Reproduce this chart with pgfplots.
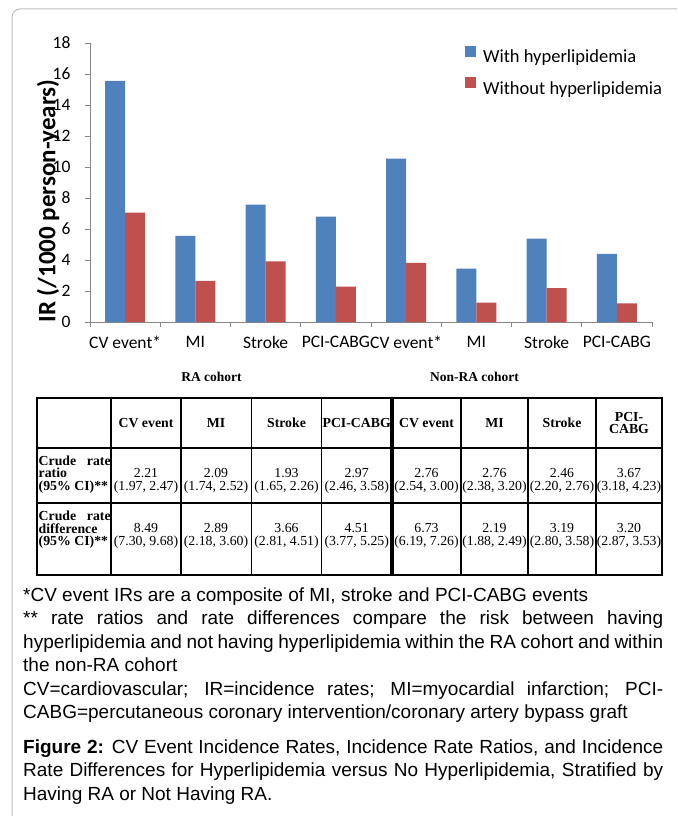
\documentclass[border=0pt]{standalone}
\usepackage{pgfplots}
\pgfplotsset{compat=1.18}
\usepackage{fontspec}
\setmainfont{Liberation Sans}
\newfontfamily\carlito{Carlito}
\newfontfamily\tnr{Liberation Serif}
\definecolor{xblue}{HTML}{4F81BD}
\definecolor{xred}{HTML}{C0504D}
\definecolor{axgray}{HTML}{868686}
\definecolor{framegray}{HTML}{BDBDBD}
\newcommand{\tabfont}{\tnr\fontsize{13.8}{12.8}\selectfont}
\newcommand{\tabbold}{\tnr\bfseries\fontsize{13.8}{12.6}\selectfont}
\newcommand{\notefont}{\fontsize{19}{23.4}\selectfont\spaceskip=0.278em plus 0.4em minus 0.12em\relax}
\begin{document}
\begin{tikzpicture}
\path[use as bounding box] (0pt,0pt) rectangle (677pt,-816pt);
\begin{scope}
\clip (0pt,0pt) rectangle (677pt,-816pt);
\draw[framegray, line width=1pt, rounded corners=8pt] (12pt,-9pt) rectangle (720pt,-824pt);
\end{scope}
\begin{axis}[
  at={(90pt,-322pt)}, anchor=south west,
  scale only axis, width=562pt, height=279pt,
  xmin=-0.5, xmax=7.5, ymin=0, ymax=18,
  ybar=0pt, bar width=20pt,
  axis x line*=bottom, axis y line*=left,
  axis line style={axgray, line width=0.8pt},
  ytick={0,2,...,18},
  xtick={-0.5,0.5,...,7.5}, xticklabels={},
  tick align=outside, major tick length=5pt,
  tick style={axgray, line width=0.8pt},
  extra x ticks={0,1,2,3,4,5,6,7},
  extra x tick labels={CV event*,MI,Stroke,PCI-CABG,CV event*,MI,Stroke,PCI-CABG},
  extra x tick style={major tick length=0pt, tick style={draw=none}},
  /pgf/number format/assume math mode=true,
  ticklabel style={font=\carlito\fontsize{17.5}{20}\selectfont, text=black},
  yticklabel style={xshift=-11pt},
  xticklabel style={yshift=-11pt},
  legend image code/.code={\fill[#1] (0pt,0pt) rectangle (11pt,11pt);},
  legend style={at={(axis description cs:0.667,0.989)}, anchor=north west,
    draw=none, fill=none, inner sep=0pt, row sep=11pt,
    font=\carlito\fontsize{18.5}{21}\selectfont,
    /tikz/every odd column/.append style={column sep=5pt}},
  legend cell align=left,
]
\addplot[fill=xblue, draw=none] coordinates {(0,15.56) (1,5.55) (2,7.57) (3,6.80) (4,10.54) (5,3.44) (6,5.38) (7,4.40)};
\addplot[fill=xred, draw=none] coordinates {(0,7.06) (1,2.66) (2,3.91) (3,2.29) (4,3.81) (5,1.25) (6,2.19) (7,1.20)};
\legend{With hyperlipidemia, Without hyperlipidemia}
\end{axis}
\node[rotate=90, font=\carlito\bfseries\fontsize{25}{28}\selectfont] at (48pt,-201pt) {IR (/1000 person-years)};
\node[font=\tnr\bfseries\fontsize{13.5}{15}\selectfont] at (211.5pt,-377pt) {RA cohort};
\node[font=\tnr\bfseries\fontsize{13.5}{15}\selectfont] at (474.5pt,-377pt) {Non-RA cohort};
% table
\draw[line width=2pt] (37pt,-398pt) rectangle (662pt,-575pt);
\draw[line width=1.3pt] (37pt,-448pt) -- (662pt,-448pt) (37pt,-503pt) -- (662pt,-503pt);
\foreach \xx in {111,181,251.5,321.5,461,528,596} {\draw[line width=1.3pt] (\xx pt,-398pt) -- (\xx pt,-575pt);}
\draw[line width=3.5pt] (392pt,-398pt) -- (392pt,-575pt);
\foreach \xx/\lab in {146/CV event,216/MI,286.5/Stroke,356.7/PCI-CABG,426.5/CV event,494.5/MI,562/Stroke} {\node[font=\tabbold] at (\xx pt,-423pt) {\lab};}
\node[font=\tabbold, align=center] at (629pt,-423pt) {PCI-\\CABG};
\foreach \xx/\a/\b in {146/2.21/{(1.97, 2.47)},216/2.09/{(1.74, 2.52)},286.5/1.93/{(1.65, 2.26)},356.7/2.97/{(2.46, 3.58)},426.5/2.76/{(2.54, 3.00)},494.5/2.76/{(2.38, 3.20)},562/2.46/{(2.20, 2.76)},629/3.67/{(3.18, 4.23)}} {\node[font=\tabfont, align=center, inner sep=0pt] at (\xx pt,-481pt) {\a\\\b};}
\foreach \xx/\a/\b in {146/8.49/{(7.30, 9.68)},216/2.89/{(2.18, 3.60)},286.5/3.66/{(2.81, 4.51)},356.7/4.51/{(3.77, 5.25)},426.5/6.73/{(6.19, 7.26)},494.5/2.19/{(1.88, 2.49)},562/3.19/{(2.80, 3.58)},629/3.20/{(2.87, 3.53)}} {\node[font=\tabfont, align=center, inner sep=0pt] at (\xx pt,-536pt) {\a\\\b};}
\node[anchor=base west, text width=72pt, align=justify, inner sep=0pt, font=\tabbold] at (38.5pt,-465pt) {Crude rate\linebreak ratio\newline (95\% CI)**};
\node[anchor=base west, text width=72pt, align=justify, inner sep=0pt, font=\tabbold] at (38.5pt,-520.5pt) {Crude rate\linebreak difference\newline (95\% CI)**};
% notes
\node[anchor=base west, text width=640pt, align=justify, inner sep=0pt, font=\notefont] at (23pt,-601.5pt) {*CV event IRs are a composite of MI, stroke and PCI-CABG events\par ** rate ratios and rate differences compare the risk between having\linebreak hyperlipidemia and not having hyperlipidemia within the RA cohort and within\linebreak the non-RA cohort\par CV=cardiovascular; IR=incidence rates; MI=myocardial infarction; PCI-\linebreak CABG=percutaneous coronary intervention/coronary artery bypass graft};
\node[anchor=base west, text width=640pt, align=justify, inner sep=0pt, font=\notefont] at (23pt,-753.5pt) {\textbf{Figure 2:} CV Event Incidence Rates, Incidence Rate Ratios, and Incidence\linebreak Rate Differences for Hyperlipidemia versus No Hyperlipidemia, Stratified by\linebreak Having RA or Not Having RA.};
\end{tikzpicture}
\end{document}
